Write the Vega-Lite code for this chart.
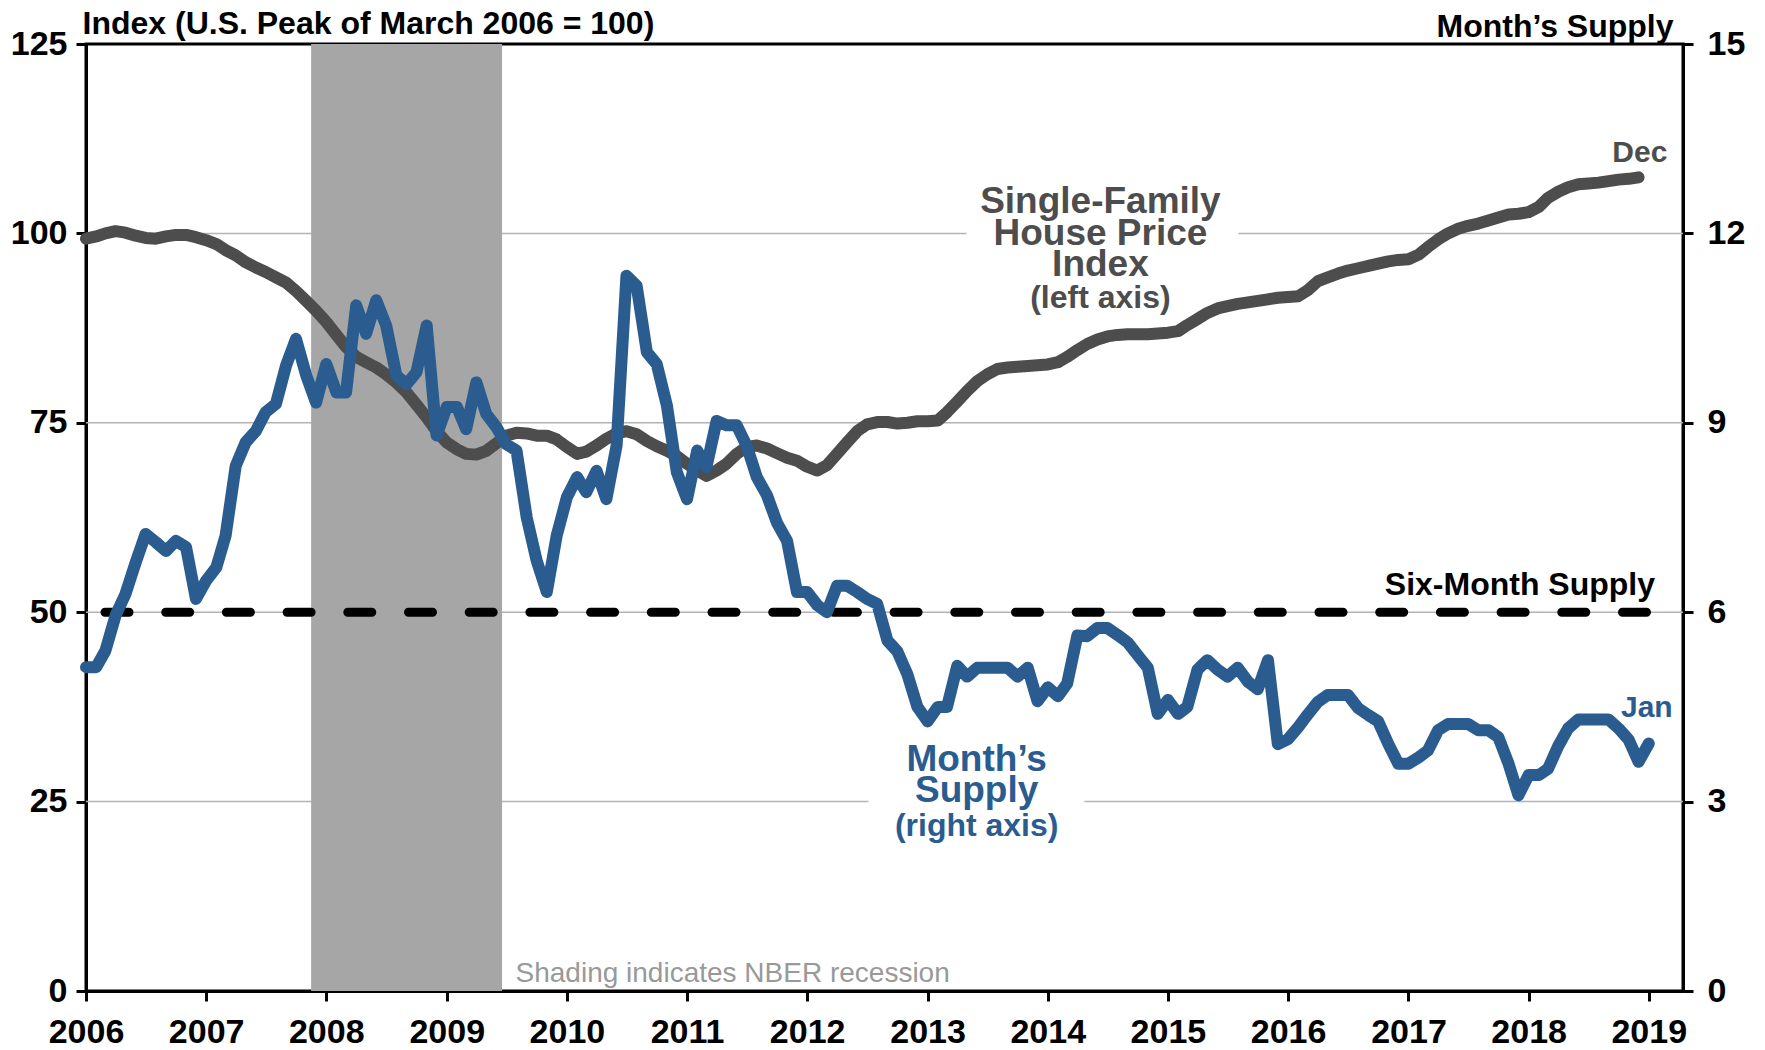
{
  "$schema": "https://vega.github.io/schema/vega-lite/v6.json",
  "width": 1597,
  "height": 947,
  "autosize": {"type": "none"},
  "padding": {"left": 86, "top": 44, "right": 82, "bottom": 59},
  "background": "white",
  "config": {
    "view": {"stroke": "black", "strokeWidth": 3},
    "font": "Liberation Sans",
    "axis": {
      "labelFont": "Liberation Sans", "labelFontWeight": "bold", "labelFontSize": 34, "labelColor": "black",
      "titleFont": "Liberation Sans", "titleFontWeight": "bold", "titleFontSize": 32, "titleColor": "black",
      "domainColor": "black", "domainWidth": 3, "tickColor": "black", "tickWidth": 3, "tickSize": 10,
      "grid": false
    }
  },
  "datasets": {
    "hpi": [
      {"date":"2006-01-01","v":99.3},{"date":"2006-02-01","v":99.6},{"date":"2006-03-01","v":100.0},{"date":"2006-04-01","v":100.3},{"date":"2006-05-01","v":100.1},{"date":"2006-06-01","v":99.7},{"date":"2006-07-01","v":99.4},{"date":"2006-08-01","v":99.3},{"date":"2006-09-01","v":99.6},{"date":"2006-10-01","v":99.8},{"date":"2006-11-01","v":99.8},{"date":"2006-12-01","v":99.5},
      {"date":"2007-01-01","v":99.1},{"date":"2007-02-01","v":98.6},{"date":"2007-03-01","v":97.8},{"date":"2007-04-01","v":97.1},{"date":"2007-05-01","v":96.2},{"date":"2007-06-01","v":95.5},{"date":"2007-07-01","v":94.9},{"date":"2007-08-01","v":94.2},{"date":"2007-09-01","v":93.5},{"date":"2007-10-01","v":92.4},{"date":"2007-11-01","v":91.1},{"date":"2007-12-01","v":89.8},
      {"date":"2008-01-01","v":88.3},{"date":"2008-02-01","v":86.6},{"date":"2008-03-01","v":85.0},{"date":"2008-04-01","v":83.7},{"date":"2008-05-01","v":83.0},{"date":"2008-06-01","v":82.3},{"date":"2008-07-01","v":81.4},{"date":"2008-08-01","v":80.3},{"date":"2008-09-01","v":79.0},{"date":"2008-10-01","v":77.4},{"date":"2008-11-01","v":75.7},{"date":"2008-12-01","v":73.9},
      {"date":"2009-01-01","v":72.4},{"date":"2009-02-01","v":71.5},{"date":"2009-03-01","v":70.9},{"date":"2009-04-01","v":70.8},{"date":"2009-05-01","v":71.3},{"date":"2009-06-01","v":72.3},{"date":"2009-07-01","v":73.3},{"date":"2009-08-01","v":73.7},{"date":"2009-09-01","v":73.6},{"date":"2009-10-01","v":73.3},{"date":"2009-11-01","v":73.3},{"date":"2009-12-01","v":72.8},
      {"date":"2010-01-01","v":71.8},{"date":"2010-02-01","v":70.9},{"date":"2010-03-01","v":71.2},{"date":"2010-04-01","v":72.0},{"date":"2010-05-01","v":72.9},{"date":"2010-06-01","v":73.6},{"date":"2010-07-01","v":73.9},{"date":"2010-08-01","v":73.5},{"date":"2010-09-01","v":72.6},{"date":"2010-10-01","v":71.9},{"date":"2010-11-01","v":71.3},{"date":"2010-12-01","v":70.6},
      {"date":"2011-01-01","v":69.6},{"date":"2011-02-01","v":68.7},{"date":"2011-03-01","v":68.0},{"date":"2011-04-01","v":68.7},{"date":"2011-05-01","v":69.6},{"date":"2011-06-01","v":70.9},{"date":"2011-07-01","v":71.8},{"date":"2011-08-01","v":72.0},{"date":"2011-09-01","v":71.6},{"date":"2011-10-01","v":71.0},{"date":"2011-11-01","v":70.4},{"date":"2011-12-01","v":70.0},
      {"date":"2012-01-01","v":69.2},{"date":"2012-02-01","v":68.7},{"date":"2012-03-01","v":69.4},{"date":"2012-04-01","v":70.9},{"date":"2012-05-01","v":72.4},{"date":"2012-06-01","v":73.9},{"date":"2012-07-01","v":74.8},{"date":"2012-08-01","v":75.1},{"date":"2012-09-01","v":75.1},{"date":"2012-10-01","v":74.9},{"date":"2012-11-01","v":75.0},{"date":"2012-12-01","v":75.2},
      {"date":"2013-01-01","v":75.2},{"date":"2013-02-01","v":75.3},{"date":"2013-03-01","v":76.4},{"date":"2013-04-01","v":77.8},{"date":"2013-05-01","v":79.2},{"date":"2013-06-01","v":80.5},{"date":"2013-07-01","v":81.4},{"date":"2013-08-01","v":82.1},{"date":"2013-09-01","v":82.3},{"date":"2013-10-01","v":82.4},{"date":"2013-11-01","v":82.5},{"date":"2013-12-01","v":82.6},
      {"date":"2014-01-01","v":82.7},{"date":"2014-02-01","v":83.0},{"date":"2014-03-01","v":83.7},{"date":"2014-04-01","v":84.6},{"date":"2014-05-01","v":85.4},{"date":"2014-06-01","v":86.0},{"date":"2014-07-01","v":86.4},{"date":"2014-08-01","v":86.6},{"date":"2014-09-01","v":86.7},{"date":"2014-10-01","v":86.7},{"date":"2014-11-01","v":86.7},{"date":"2014-12-01","v":86.8},
      {"date":"2015-01-01","v":86.9},{"date":"2015-02-01","v":87.1},{"date":"2015-03-01","v":87.9},{"date":"2015-04-01","v":88.7},{"date":"2015-05-01","v":89.5},{"date":"2015-06-01","v":90.1},{"date":"2015-07-01","v":90.4},{"date":"2015-08-01","v":90.7},{"date":"2015-09-01","v":90.9},{"date":"2015-10-01","v":91.1},{"date":"2015-11-01","v":91.3},{"date":"2015-12-01","v":91.5},
      {"date":"2016-01-01","v":91.6},{"date":"2016-02-01","v":91.7},{"date":"2016-03-01","v":92.5},{"date":"2016-04-01","v":93.7},{"date":"2016-05-01","v":94.2},{"date":"2016-06-01","v":94.7},{"date":"2016-07-01","v":95.1},{"date":"2016-08-01","v":95.4},{"date":"2016-09-01","v":95.7},{"date":"2016-10-01","v":96.0},{"date":"2016-11-01","v":96.3},{"date":"2016-12-01","v":96.5},
      {"date":"2017-01-01","v":96.6},{"date":"2017-02-01","v":97.2},{"date":"2017-03-01","v":98.2},{"date":"2017-04-01","v":99.2},{"date":"2017-05-01","v":100.0},{"date":"2017-06-01","v":100.6},{"date":"2017-07-01","v":101.0},{"date":"2017-08-01","v":101.3},{"date":"2017-09-01","v":101.7},{"date":"2017-10-01","v":102.1},{"date":"2017-11-01","v":102.5},{"date":"2017-12-01","v":102.6},
      {"date":"2018-01-01","v":102.8},{"date":"2018-02-01","v":103.5},{"date":"2018-03-01","v":104.7},{"date":"2018-04-01","v":105.5},{"date":"2018-05-01","v":106.1},{"date":"2018-06-01","v":106.5},{"date":"2018-07-01","v":106.6},{"date":"2018-08-01","v":106.7},{"date":"2018-09-01","v":106.9},{"date":"2018-10-01","v":107.1},{"date":"2018-11-01","v":107.2},{"date":"2018-12-01","v":107.4}
    ],
    "supply": [
      {"date":"2006-01-01","v":5.13},{"date":"2006-02-01","v":5.13},{"date":"2006-03-01","v":5.39},{"date":"2006-04-01","v":5.95},{"date":"2006-05-01","v":6.29},{"date":"2006-06-01","v":6.79},{"date":"2006-07-01","v":7.24},{"date":"2006-08-01","v":7.11},{"date":"2006-09-01","v":6.97},{"date":"2006-10-01","v":7.13},{"date":"2006-11-01","v":7.03},{"date":"2006-12-01","v":6.21},
      {"date":"2007-01-01","v":6.50},{"date":"2007-02-01","v":6.71},{"date":"2007-03-01","v":7.21},{"date":"2007-04-01","v":8.32},{"date":"2007-05-01","v":8.69},{"date":"2007-06-01","v":8.87},{"date":"2007-07-01","v":9.17},{"date":"2007-08-01","v":9.30},{"date":"2007-09-01","v":9.91},{"date":"2007-10-01","v":10.33},{"date":"2007-11-01","v":9.75},{"date":"2007-12-01","v":9.32},
      {"date":"2008-01-01","v":9.93},{"date":"2008-02-01","v":9.48},{"date":"2008-03-01","v":9.48},{"date":"2008-04-01","v":10.86},{"date":"2008-05-01","v":10.41},{"date":"2008-06-01","v":10.94},{"date":"2008-07-01","v":10.54},{"date":"2008-08-01","v":9.75},{"date":"2008-09-01","v":9.61},{"date":"2008-10-01","v":9.80},{"date":"2008-11-01","v":10.54},{"date":"2008-12-01","v":8.80},
      {"date":"2009-01-01","v":9.25},{"date":"2009-02-01","v":9.25},{"date":"2009-03-01","v":8.90},{"date":"2009-04-01","v":9.64},{"date":"2009-05-01","v":9.14},{"date":"2009-06-01","v":8.93},{"date":"2009-07-01","v":8.66},{"date":"2009-08-01","v":8.56},{"date":"2009-09-01","v":7.50},{"date":"2009-10-01","v":6.82},{"date":"2009-11-01","v":6.32},{"date":"2009-12-01","v":7.21},
      {"date":"2010-01-01","v":7.82},{"date":"2010-02-01","v":8.14},{"date":"2010-03-01","v":7.90},{"date":"2010-04-01","v":8.24},{"date":"2010-05-01","v":7.79},{"date":"2010-06-01","v":8.64},{"date":"2010-07-01","v":11.33},{"date":"2010-08-01","v":11.17},{"date":"2010-09-01","v":10.12},{"date":"2010-10-01","v":9.93},{"date":"2010-11-01","v":9.27},{"date":"2010-12-01","v":8.22},
      {"date":"2011-01-01","v":7.79},{"date":"2011-02-01","v":8.56},{"date":"2011-03-01","v":8.30},{"date":"2011-04-01","v":9.03},{"date":"2011-05-01","v":8.96},{"date":"2011-06-01","v":8.96},{"date":"2011-07-01","v":8.64},{"date":"2011-08-01","v":8.14},{"date":"2011-09-01","v":7.85},{"date":"2011-10-01","v":7.42},{"date":"2011-11-01","v":7.13},{"date":"2011-12-01","v":6.32},
      {"date":"2012-01-01","v":6.32},{"date":"2012-02-01","v":6.11},{"date":"2012-03-01","v":6.00},{"date":"2012-04-01","v":6.42},{"date":"2012-05-01","v":6.42},{"date":"2012-06-01","v":6.32},{"date":"2012-07-01","v":6.21},{"date":"2012-08-01","v":6.13},{"date":"2012-09-01","v":5.55},{"date":"2012-10-01","v":5.38},{"date":"2012-11-01","v":5.01},{"date":"2012-12-01","v":4.50},
      {"date":"2013-01-01","v":4.27},{"date":"2013-02-01","v":4.50},{"date":"2013-03-01","v":4.50},{"date":"2013-04-01","v":5.15},{"date":"2013-05-01","v":4.98},{"date":"2013-06-01","v":5.12},{"date":"2013-07-01","v":5.12},{"date":"2013-08-01","v":5.12},{"date":"2013-09-01","v":5.12},{"date":"2013-10-01","v":4.98},{"date":"2013-11-01","v":5.12},{"date":"2013-12-01","v":4.59},
      {"date":"2014-01-01","v":4.81},{"date":"2014-02-01","v":4.67},{"date":"2014-03-01","v":4.87},{"date":"2014-04-01","v":5.63},{"date":"2014-05-01","v":5.62},{"date":"2014-06-01","v":5.75},{"date":"2014-07-01","v":5.75},{"date":"2014-08-01","v":5.64},{"date":"2014-09-01","v":5.52},{"date":"2014-10-01","v":5.32},{"date":"2014-11-01","v":5.12},{"date":"2014-12-01","v":4.39},
      {"date":"2015-01-01","v":4.61},{"date":"2015-02-01","v":4.39},{"date":"2015-03-01","v":4.50},{"date":"2015-04-01","v":5.09},{"date":"2015-05-01","v":5.24},{"date":"2015-06-01","v":5.09},{"date":"2015-07-01","v":4.98},{"date":"2015-08-01","v":5.12},{"date":"2015-09-01","v":4.90},{"date":"2015-10-01","v":4.78},{"date":"2015-11-01","v":5.24},{"date":"2015-12-01","v":3.91},
      {"date":"2016-01-01","v":3.99},{"date":"2016-02-01","v":4.18},{"date":"2016-03-01","v":4.38},{"date":"2016-04-01","v":4.58},{"date":"2016-05-01","v":4.69},{"date":"2016-06-01","v":4.69},{"date":"2016-07-01","v":4.69},{"date":"2016-08-01","v":4.48},{"date":"2016-09-01","v":4.37},{"date":"2016-10-01","v":4.27},{"date":"2016-11-01","v":3.91},{"date":"2016-12-01","v":3.60},
      {"date":"2017-01-01","v":3.60},{"date":"2017-02-01","v":3.70},{"date":"2017-03-01","v":3.81},{"date":"2017-04-01","v":4.13},{"date":"2017-05-01","v":4.23},{"date":"2017-06-01","v":4.23},{"date":"2017-07-01","v":4.23},{"date":"2017-08-01","v":4.13},{"date":"2017-09-01","v":4.13},{"date":"2017-10-01","v":4.02},{"date":"2017-11-01","v":3.60},{"date":"2017-12-01","v":3.10},
      {"date":"2018-01-01","v":3.42},{"date":"2018-02-01","v":3.42},{"date":"2018-03-01","v":3.52},{"date":"2018-04-01","v":3.88},{"date":"2018-05-01","v":4.16},{"date":"2018-06-01","v":4.30},{"date":"2018-07-01","v":4.30},{"date":"2018-08-01","v":4.30},{"date":"2018-09-01","v":4.30},{"date":"2018-10-01","v":4.16},{"date":"2018-11-01","v":3.98},{"date":"2018-12-01","v":3.63},
      {"date":"2019-01-01","v":3.92}
    ]
  },
  "encoding": {
    "x": {
      "field": "date", "type": "temporal",
      "scale": {"type": "utc", "domain": [{"year": 2006, "month": 1, "date": 1, "utc": true}, {"year": 2019, "month": 4, "date": 15, "utc": true}]},
      "axis": {
        "title": null, "format": "%Y", "labelPadding": 14, "labelFlush": false, "labelOverlap": false,
        "values": [
          {"year": 2006, "month": 1, "date": 1, "utc": true}, {"year": 2007, "month": 1, "date": 1, "utc": true},
          {"year": 2008, "month": 1, "date": 1, "utc": true}, {"year": 2009, "month": 1, "date": 1, "utc": true},
          {"year": 2010, "month": 1, "date": 1, "utc": true}, {"year": 2011, "month": 1, "date": 1, "utc": true},
          {"year": 2012, "month": 1, "date": 1, "utc": true}, {"year": 2013, "month": 1, "date": 1, "utc": true},
          {"year": 2014, "month": 1, "date": 1, "utc": true}, {"year": 2015, "month": 1, "date": 1, "utc": true},
          {"year": 2016, "month": 1, "date": 1, "utc": true}, {"year": 2017, "month": 1, "date": 1, "utc": true},
          {"year": 2018, "month": 1, "date": 1, "utc": true}, {"year": 2019, "month": 1, "date": 1, "utc": true}
        ]
      }
    }
  },
  "layer": [
    {
      "data": {"values": [
        {"date": "2006-01-01", "date2": "2019-04-15", "v": 75},
        {"date": "2006-01-01", "date2": "2019-04-15", "v": 50},
        {"date": "2006-01-01", "date2": "2013-04-29", "v": 100},
        {"date": "2015-08-03", "date2": "2019-04-15", "v": 100},
        {"date": "2006-01-01", "date2": "2012-07-05", "v": 25},
        {"date": "2014-04-22", "date2": "2019-04-15", "v": 25}
      ]},
      "mark": {"type": "rule", "color": "#b3b3b3", "strokeWidth": 1.5},
      "encoding": {
        "x2": {"field": "date2"},
        "y": {"field": "v", "type": "quantitative", "scale": {"domain": [0, 125]}, "axis": null}
      }
    },
    {
      "data": {"values": [{"date": "2007-11-16", "date2": "2009-06-18"}]},
      "mark": {"type": "rect", "color": "#a6a6a6"},
      "encoding": {"x2": {"field": "date2"}}
    },
    {
      "data": {"name": "hpi"},
      "mark": {"type": "line", "color": "#4d4d4d", "strokeWidth": 12, "strokeCap": "round", "strokeJoin": "round"},
      "encoding": {
        "y": {
          "field": "v", "type": "quantitative", "scale": {"domain": [0, 125]},
          "axis": {
            "orient": "left", "values": [0, 25, 50, 75, 100, 125], "labelPadding": 9,
            "title": "Index (U.S. Peak of March 2006 = 100)", "titleAngle": 0, "titleAlign": "left",
            "titleBaseline": "alphabetic", "titleX": -4, "titleY": -11
          }
        }
      }
    },
    {
      "data": {"values": [{"date": "2006-01-01", "v": 6}, {"date": "2019-01-01", "v": 6}]},
      "mark": {"type": "line", "color": "black", "strokeWidth": 9, "strokeCap": "round", "strokeDash": [24, 36.7], "strokeDashOffset": 41.7},
      "encoding": {
        "y": {"field": "v", "type": "quantitative", "scale": {"domain": [0, 15]}, "axis": null}
      }
    },
    {
      "data": {"name": "supply"},
      "mark": {"type": "line", "color": "#2b5c8f", "strokeWidth": 12, "strokeCap": "round", "strokeJoin": "round"},
      "encoding": {
        "y": {
          "field": "v", "type": "quantitative", "scale": {"domain": [0, 15]},
          "axis": {
            "orient": "right", "values": [0, 3, 6, 9, 12, 15], "labelPadding": 14, "labelAlign": "left",
            "title": "Month’s Supply", "titleAngle": 0, "titleAlign": "right",
            "titleBaseline": "alphabetic", "titleX": -10, "titleY": -8
          }
        }
      }
    },
    {
      "data": {"values": [
        {"date": "2014-06-10", "v": 102.7, "label": "Single-Family"},
        {"date": "2014-06-10", "v": 98.5, "label": "House Price"},
        {"date": "2014-06-10", "v": 94.4, "label": "Index"}
      ]},
      "mark": {"type": "text", "color": "#4d4d4d", "font": "Liberation Sans", "fontWeight": "bold", "fontSize": 37, "align": "center", "baseline": "alphabetic"},
      "encoding": {
        "text": {"field": "label"},
        "y": {"field": "v", "type": "quantitative", "scale": {"domain": [0, 125]}, "axis": null}
      }
    },
    {
      "data": {"values": [{"date": "2014-06-10", "v": 90.15, "label": "(left axis)"}]},
      "mark": {"type": "text", "color": "#4d4d4d", "font": "Liberation Sans", "fontWeight": "bold", "fontSize": 32, "align": "center", "baseline": "alphabetic"},
      "encoding": {
        "text": {"field": "label"},
        "y": {"field": "v", "type": "quantitative", "scale": {"domain": [0, 125]}, "axis": null}
      }
    },
    {
      "data": {"values": [
        {"date": "2013-05-30", "v": 3.48, "label": "Month’s"},
        {"date": "2013-05-30", "v": 2.99, "label": "Supply"}
      ]},
      "mark": {"type": "text", "color": "#2b5c8f", "font": "Liberation Sans", "fontWeight": "bold", "fontSize": 37, "align": "center", "baseline": "alphabetic"},
      "encoding": {
        "text": {"field": "label"},
        "y": {"field": "v", "type": "quantitative", "scale": {"domain": [0, 15]}, "axis": null}
      }
    },
    {
      "data": {"values": [{"date": "2013-05-30", "v": 2.45, "label": "(right axis)"}]},
      "mark": {"type": "text", "color": "#2b5c8f", "font": "Liberation Sans", "fontWeight": "bold", "fontSize": 32, "align": "center", "baseline": "alphabetic"},
      "encoding": {
        "text": {"field": "label"},
        "y": {"field": "v", "type": "quantitative", "scale": {"domain": [0, 15]}, "axis": null}
      }
    },
    {
      "data": {"values": [{"date": "2019-01-20", "v": 6.265, "label": "Six-Month Supply"}]},
      "mark": {"type": "text", "color": "black", "font": "Liberation Sans", "fontWeight": "bold", "fontSize": 32, "align": "right", "baseline": "alphabetic"},
      "encoding": {
        "text": {"field": "label"},
        "y": {"field": "v", "type": "quantitative", "scale": {"domain": [0, 15]}, "axis": null}
      }
    },
    {
      "data": {"values": [{"date": "2018-12-05", "v": 109.4, "label": "Dec"}]},
      "mark": {"type": "text", "color": "#4d4d4d", "font": "Liberation Sans", "fontWeight": "bold", "fontSize": 30, "align": "center", "baseline": "alphabetic"},
      "encoding": {
        "text": {"field": "label"},
        "y": {"field": "v", "type": "quantitative", "scale": {"domain": [0, 125]}, "axis": null}
      }
    },
    {
      "data": {"values": [{"date": "2018-12-26", "v": 4.334, "label": "Jan"}]},
      "mark": {"type": "text", "color": "#2b5c8f", "font": "Liberation Sans", "fontWeight": "bold", "fontSize": 30, "align": "center", "baseline": "alphabetic"},
      "encoding": {
        "text": {"field": "label"},
        "y": {"field": "v", "type": "quantitative", "scale": {"domain": [0, 15]}, "axis": null}
      }
    },
    {
      "data": {"values": [{"date": "2009-07-29", "v": 1.15, "label": "Shading indicates NBER recession"}]},
      "mark": {"type": "text", "color": "#999999", "font": "Liberation Sans", "fontSize": 28, "align": "left", "baseline": "alphabetic"},
      "encoding": {
        "text": {"field": "label"},
        "y": {"field": "v", "type": "quantitative", "scale": {"domain": [0, 125]}, "axis": null}
      }
    }
  ],
  "resolve": {"scale": {"y": "independent"}}
}
